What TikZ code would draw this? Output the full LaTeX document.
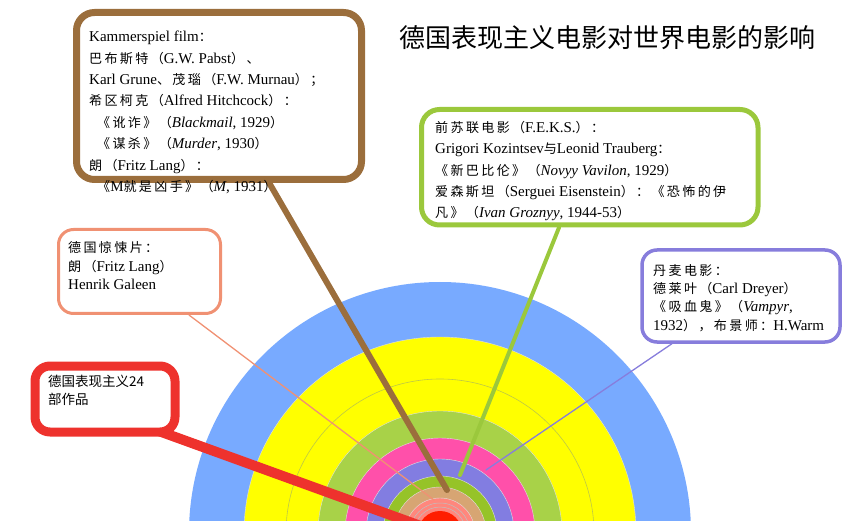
\documentclass[tikz,border=0pt]{standalone}
\usepackage{fontspec}
\setmainfont{Liberation Serif}
\newfontfamily\cjk[Scale=0.87,LetterSpace=18]{Noto Sans CJK SC}
\newfontfamily\cjksans{Noto Sans CJK SC}
\newcommand\zh[1]{{\cjk #1}}
\usetikzlibrary{calc}
\pgfdeclarelayer{rings}
\pgfdeclarelayer{links}
\pgfsetlayers{rings,links,main}
\definecolor{ringblue}{RGB}{120,170,255}
\definecolor{ringyellow}{RGB}{255,255,0}
\definecolor{ringthin}{RGB}{190,200,70}
\definecolor{ringgreen}{RGB}{168,210,72}
\definecolor{ringpink}{RGB}{255,80,170}
\definecolor{ringpurple}{RGB}{130,125,225}
\definecolor{ringolive}{RGB}{150,195,40}
\definecolor{ringtan}{RGB}{215,165,115}
\definecolor{ringsalmon}{RGB}{255,135,125}
\definecolor{ringred}{RGB}{255,30,0}
\definecolor{brownc}{RGB}{155,110,60}
\definecolor{greenc}{RGB}{155,200,60}
\definecolor{purplec}{RGB}{135,125,220}
\definecolor{salmonc}{RGB}{240,145,115}
\definecolor{redc}{RGB}{238,50,45}
\tikzset{
  infobox/.style={draw, fill=white, rectangle, inner sep=0pt},
  boxtext/.style={anchor=north west, inner sep=0pt, align=left, font=\fontsize{15}{21.4}\selectfont},
  tighttext/.style={anchor=north west, inner sep=0pt, align=left, font=\fontsize{15}{18.4}\selectfont},
  ring/.style={draw=black!12, line width=0.4pt},
  link/.style={line cap=round}
}
\begin{document}
\begin{tikzpicture}[x=1pt,y=-1pt]
\useasboundingbox (0,0) rectangle (854,521);
% rings
\begin{pgfonlayer}{rings}
\begin{scope}
\clip (0,0) rectangle (854,521);
\fill[ringblue] (440,533) circle[radius=251pt];
\filldraw[ring, fill=ringyellow] (440,533) circle[radius=196pt];
\draw[ringthin, line width=0.6pt] (440,533) circle[radius=154pt];
\filldraw[ring, fill=ringgreen] (440,533) circle[radius=122pt];
\filldraw[ring, fill=ringpink] (440,533) circle[radius=95pt];
\filldraw[ring, fill=ringpurple] (440,533) circle[radius=74pt];
\filldraw[ring, fill=ringolive] (440,533) circle[radius=57pt];
\filldraw[ring, fill=ringtan] (440,533) circle[radius=46pt];
\filldraw[ring, fill=ringsalmon] (440,533) circle[radius=35pt];
\draw[black!25, line width=0.5pt] (440,533) circle[radius=30pt];
\draw[black!25, line width=0.5pt] (440,533) circle[radius=26pt];
\end{scope}
\end{pgfonlayer}
\node[circle, fill=ringred, minimum size=44pt, inner sep=0pt] (core) at (440,533) {};
% boxes
\node[infobox, draw=brownc, line width=7pt, minimum width=285pt, minimum height=167pt, rounded corners=18pt] (brownbox) at (219,96) {};
\node[infobox, draw=greenc, line width=5pt, minimum width=336.5pt, minimum height=115.5pt, rounded corners=18pt] (greenbox) at (589.75,167.25) {};
\node[infobox, draw=purplec, line width=3.5pt, minimum width=198pt, minimum height=92pt, rounded corners=15pt] (purplebox) at (741,296) {};
\node[infobox, draw=salmonc, line width=3pt, minimum width=162pt, minimum height=84pt, rounded corners=15pt] (salmonbox) at (139.5,271.5) {};
\node[infobox, draw=redc, line width=9pt, minimum width=140pt, minimum height=66pt, rounded corners=15pt] (redbox) at (105,399) {};
% connector ends
\coordinate (brownend) at (447,490);
\coordinate (greenend) at (460,475);
\coordinate (purpleend) at (486,470);
\coordinate (salmonend) at (434,500);
\coordinate (redstart) at ($(redbox.south east)+(-25,-7)$);
\begin{pgfonlayer}{links}
\draw[link, brownc, line width=6pt] ($(brownbox.south west)!0.672!(brownbox.south east)$) -- (brownend);
\draw[link, greenc, line width=4pt] ($(greenbox.south west)!0.41!(greenbox.south east)$) -- (greenend);
\draw[link, purplec, line width=1.3pt] ($(purplebox.south west)!0.157!(purplebox.south east)$) -- (purpleend);
\draw[link, salmonc, line width=1.3pt] ($(salmonbox.south west)!0.8!(salmonbox.south east)$) -- (salmonend);
\draw[redc, line width=10pt] (redstart) -- (core.center);
\end{pgfonlayer}
% texts
\node[boxtext] (browntext) at (89,31) {Kammerspiel film\zh{：}\\
\zh{巴布斯特（}G.W. Pabst\zh{）、}\\
Karl Grune\zh{、茂瑙（}F.W. Murnau\zh{）；}\\
\zh{希区柯克（}Alfred Hitchcock\zh{）：}\\
\hspace*{8pt}\zh{《讹诈》（}\textit{Blackmail}, 1929\zh{）}\\
\hspace*{8pt}\zh{《谋杀》（}\textit{Murder}, 1930\zh{）}\\
\zh{朗（}Fritz Lang\zh{）：}\\
\hspace*{8pt}\zh{《}M\zh{就是凶手》（}\textit{M}, 1931\zh{）}};
\node[boxtext] (greentext) at (435,121) {\zh{前苏联电影（}F.E.K.S.\zh{）：}\\
Grigori Kozintsev\zh{与}Leonid Trauberg\zh{：}\\
\zh{《新巴比伦》（}\textit{Novyy Vavilon}, 1929\zh{）}\\
\zh{爱森斯坦（}Serguei Eisenstein\zh{）：《恐怖的伊}\\
\zh{凡》（}\textit{Ivan Groznyy}, 1944-53\zh{）}};
\node[tighttext] (purpletext) at (653,264) {\zh{丹麦电影：}\\
\zh{德莱叶（}Carl Dreyer\zh{）}\\
\zh{《吸血鬼》（}\textit{Vampyr},\\
1932\zh{），布景师：}H.Warm};
\node[tighttext] (salmontext) at (68,241.5) {\zh{德国惊悚片：}\\
\zh{朗（}Fritz Lang\zh{）}\\
Henrik Galeen};
\node[anchor=north west, inner sep=0pt, align=left, font=\cjksans\fontsize{13.5}{18}\selectfont] (redtext) at (48,375) {德国表现主义24\\部作品};
\node[font=\cjksans\fontsize{26}{30}\selectfont, inner sep=0pt] (title) at (607,38) {德国表现主义电影对世界电影的影响};
\end{tikzpicture}
\end{document}
